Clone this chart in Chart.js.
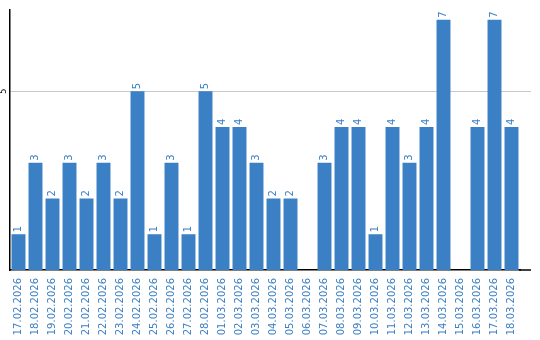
<!DOCTYPE html>
<html>
<head>
<meta charset="utf-8">
<script src="https://cdn.jsdelivr.net/npm/chart.js@4/dist/chart.umd.min.js"></script>
<style>
  html, body { margin: 0; padding: 0; background: #fff; }
  #wrap { width: 540px; height: 340px; }
</style>
</head>
<body>
<div id="wrap"><canvas id="chart" width="540" height="340"></canvas></div>
<script>
// categories and values
const days = [
	'17.02.2026', '18.02.2026', '19.02.2026', '20.02.2026', '21.02.2026',
	'22.02.2026', '23.02.2026', '24.02.2026', '25.02.2026', '26.02.2026',
	'27.02.2026', '28.02.2026', '01.03.2026', '02.03.2026', '03.03.2026',
	'04.03.2026', '05.03.2026', '06.03.2026', '07.03.2026', '08.03.2026',
	'09.03.2026', '10.03.2026', '11.03.2026', '12.03.2026', '13.03.2026',
	'14.03.2026', '15.03.2026', '16.03.2026', '17.03.2026', '18.03.2026',
];
const counts = [1, 3, 2, 3, 2, 3, 2, 5, 1, 3, 1, 5, 4, 4, 3, 2, 2, 0, 3, 4, 4, 1, 4, 3, 4, 7, 0, 4, 7, 4];
const yTicks = [5];

const blue = '#3b7fc4';
const axisEnd = 531; // axis + grid run a bit past the last category

// value labels above the bars, rotated
const barLabels = {
	id: 'barLabels',
	afterDatasetsDraw(chart) {
		const ctx = chart.ctx;
		const meta = chart.getDatasetMeta(0);
		ctx.save();
		ctx.fillStyle = blue;
		ctx.font = '10px "DejaVu Sans"';
		ctx.textAlign = 'left';
		ctx.textBaseline = 'middle';
		meta.data.forEach((bar, i) => {
			if (!counts[i]) return;
			ctx.save();
			ctx.translate(bar.x, bar.y - 2);
			ctx.rotate(-Math.PI / 2);
			ctx.fillText(String(counts[i]), 0, 0);
			ctx.restore();
		});
		ctx.restore();
	},
};

// rotated y tick label + extended grid/axis lines
const yLabels = {
	id: 'yLabels',
	beforeDatasetsDraw(chart) {
		const ctx = chart.ctx;
		const y = chart.scales.y;
		const area = chart.chartArea;
		ctx.save();
		ctx.strokeStyle = '#c8c8c8';
		ctx.lineWidth = 1;
		yTicks.forEach((v) => {
			const py = Math.round(y.getPixelForValue(v)) + 0.5;
			ctx.beginPath();
			ctx.moveTo(area.right - 1, py);
			ctx.lineTo(axisEnd, py);
			ctx.stroke();
		});
		ctx.restore();
	},
	afterDraw(chart) {
		const ctx = chart.ctx;
		const y = chart.scales.y;
		const area = chart.chartArea;
		ctx.save();
		ctx.strokeStyle = '#000';
		ctx.lineWidth = 1.5;
		ctx.beginPath();
		ctx.moveTo(area.right - 1, area.bottom);
		ctx.lineTo(axisEnd, area.bottom);
		ctx.stroke();
		ctx.fillStyle = '#000';
		ctx.font = '8px "DejaVu Sans"';
		ctx.textAlign = 'center';
		ctx.textBaseline = 'middle';
		yTicks.forEach((v) => {
			ctx.save();
			ctx.translate(4, y.getPixelForValue(v));
			ctx.rotate(-Math.PI / 2);
			ctx.fillText(String(v), 0, 0);
			ctx.restore();
		});
		ctx.restore();
	},
};

new Chart(document.getElementById('chart').getContext('2d'), {
	type: 'bar',
	data: {
		labels: days,
		datasets: [
			{
				data: counts,
				backgroundColor: blue,
				barPercentage: 0.82,
				categoryPercentage: 1,
			},
		],
	},
	options: {
		responsive: false,
		animation: false,
		layout: { padding: { top: 10, right: 20, left: 0, bottom: 0 } },
		plugins: {
			legend: { display: false },
			tooltip: { enabled: false },
		},
		scales: {
			x: {
				grid: { display: false, drawTicks: false },
				border: { display: true, color: '#000', width: 1.5 },
				afterFit: (scale) => { scale.height = 70; },
				ticks: {
					color: blue,
					font: { family: 'DejaVu Sans', size: 10 },
					minRotation: 90,
					maxRotation: 90,
					autoSkip: false,
					padding: 8,
				},
			},
			y: {
				min: 0,
				max: 7.27,
				afterBuildTicks: (scale) => {
					scale.ticks = yTicks.map((v) => ({ value: v }));
				},
				afterFit: (scale) => { scale.width = 10; },
				grid: { color: '#c8c8c8', drawTicks: false },
				border: { display: true, color: '#000', width: 1.5 },
				ticks: { display: false },
			},
		},
	},
	plugins: [barLabels, yLabels],
});
</script>
</body>
</html>
